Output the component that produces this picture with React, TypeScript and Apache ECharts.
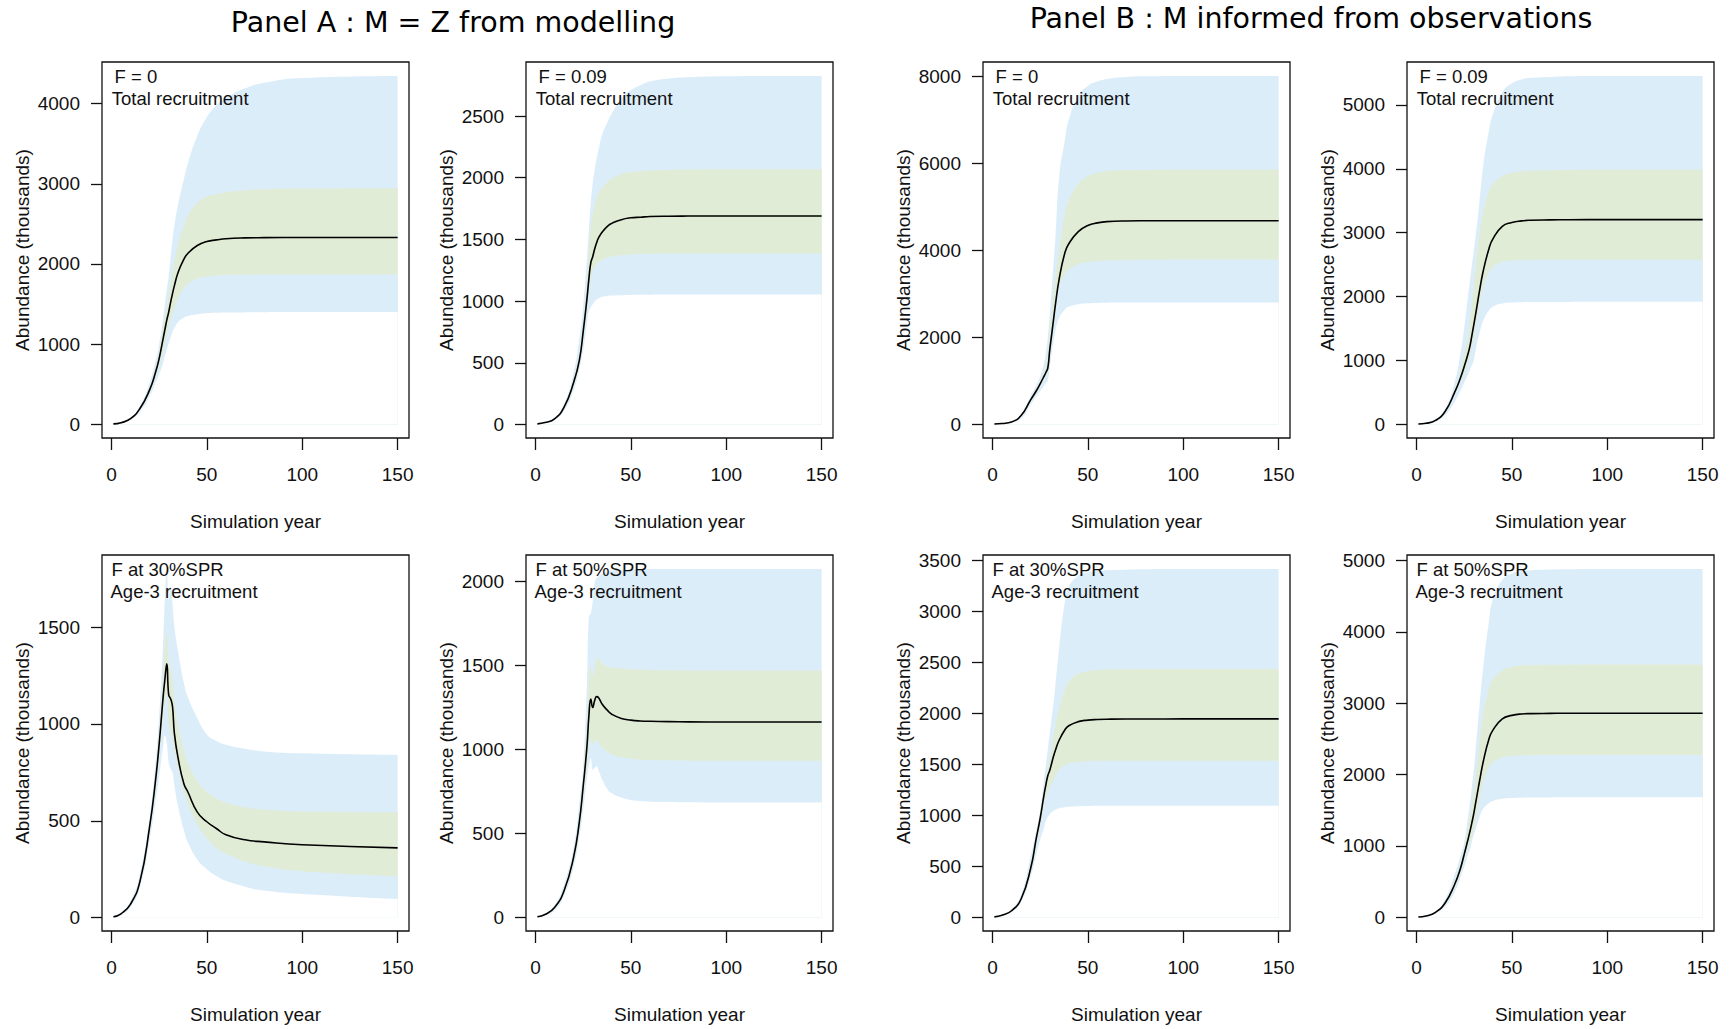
import React, { useEffect, useRef } from "react";
import * as echarts from "echarts";

// Simulation years at which the projected abundance summaries are stored
const YEARS = [1, 5, 10, 15, 20, 23, 25, 27, 28, 29, 30, 31, 32, 33, 35, 38, 40, 45, 50, 55, 60, 70, 80, 100, 150];
const X_TICKS = [0, 50, 100, 150];

// Panel A, F = 0, total recruitment
const A1_MED = [5, 20, 70, 200, 430, 640, 820, 1060, 1180, 1300, 1400, 1520, 1630, 1730, 1900, 2060, 2130, 2230, 2280, 2300, 2315, 2325, 2328, 2330, 2330];
const A1_HI95 = [6, 25, 80, 230, 520, 780, 1000, 1300, 1500, 1680, 1850, 2080, 2300, 2480, 2750, 3060, 3250, 3600, 3830, 3980, 4070, 4190, 4260, 4320, 4345];
const A1_HI50 = [5, 21, 73, 210, 460, 700, 900, 1200, 1320, 1450, 1600, 1750, 1900, 2030, 2250, 2480, 2600, 2760, 2840, 2870, 2895, 2920, 2932, 2940, 2945];
const A1_LO50 = [4, 18, 65, 185, 400, 590, 740, 920, 1020, 1120, 1220, 1300, 1380, 1450, 1580, 1700, 1750, 1815, 1845, 1855, 1862, 1866, 1868, 1870, 1870];
const A1_LO95 = [3, 14, 55, 160, 350, 510, 620, 760, 850, 930, 1010, 1080, 1150, 1200, 1280, 1330, 1350, 1372, 1385, 1390, 1393, 1396, 1398, 1400, 1400];
const A1_TICKS = [0, 1000, 2000, 3000, 4000];

// Panel A, F = 0.09, total recruitment
const A2_MED = [5, 15, 45, 140, 340, 520, 750, 1020, 1180, 1310, 1360, 1420, 1470, 1510, 1560, 1610, 1630, 1660, 1675, 1680, 1685, 1688, 1689, 1690, 1690];
const A2_HI95 = [6, 18, 55, 165, 420, 700, 950, 1350, 1580, 1800, 1950, 2060, 2150, 2220, 2350, 2460, 2520, 2640, 2710, 2750, 2780, 2805, 2815, 2822, 2825];
const A2_HI50 = [5, 16, 48, 150, 370, 580, 820, 1150, 1400, 1600, 1700, 1770, 1830, 1870, 1920, 1970, 1990, 2030, 2045, 2052, 2058, 2063, 2066, 2068, 2068];
const A2_LO50 = [4, 14, 42, 130, 310, 480, 680, 930, 1080, 1180, 1250, 1280, 1300, 1315, 1335, 1355, 1362, 1372, 1378, 1381, 1383, 1385, 1386, 1386, 1386];
const A2_LO95 = [3, 11, 35, 110, 280, 450, 600, 820, 920, 950, 975, 995, 1010, 1020, 1035, 1042, 1045, 1048, 1050, 1051, 1052, 1053, 1054, 1054, 1054];
const A2_TICKS = [0, 500, 1000, 1500, 2000, 2500];

// Panel B, F = 0, total recruitment
const B1_MED = [5, 15, 50, 200, 560, 770, 930, 1100, 1190, 1290, 1700, 2050, 2400, 2750, 3350, 3950, 4150, 4430, 4570, 4630, 4660, 4675, 4678, 4680, 4680];
const B1_HI95 = [6, 18, 60, 220, 650, 900, 1100, 1400, 1650, 2000, 2500, 3100, 3700, 4300, 5700, 6550, 7000, 7550, 7780, 7880, 7940, 7985, 8000, 8008, 8010];
const B1_HI50 = [5, 16, 55, 205, 600, 820, 990, 1200, 1330, 1600, 2100, 2550, 3000, 3400, 4000, 4850, 5150, 5520, 5700, 5780, 5820, 5840, 5845, 5850, 5850];
const B1_LO50 = [4, 14, 45, 180, 520, 720, 870, 1040, 1130, 1220, 1600, 2000, 2300, 2650, 3150, 3450, 3560, 3680, 3730, 3752, 3765, 3775, 3780, 3788, 3790];
const B1_LO95 = [3, 12, 40, 130, 450, 640, 760, 880, 950, 1000, 1300, 1600, 1900, 2150, 2450, 2640, 2700, 2760, 2780, 2790, 2795, 2798, 2800, 2800, 2800];
const B1_TICKS = [0, 2000, 4000, 6000, 8000];

// Panel B, F = 0.09, total recruitment
const B2_MED = [5, 15, 60, 200, 500, 720, 900, 1100, 1220, 1380, 1550, 1720, 1900, 2080, 2400, 2750, 2900, 3100, 3160, 3185, 3195, 3200, 3203, 3205, 3205];
const B2_HI95 = [6, 18, 70, 230, 650, 1100, 1500, 2000, 2250, 2480, 2700, 2950, 3200, 3480, 4050, 4600, 4850, 5200, 5340, 5400, 5425, 5440, 5450, 5453, 5455];
const B2_HI50 = [5, 16, 63, 210, 540, 800, 1100, 1350, 1580, 1850, 2150, 2450, 2750, 2980, 3320, 3650, 3760, 3880, 3940, 3960, 3970, 3978, 3982, 3985, 3985];
const B2_LO50 = [4, 13, 55, 185, 460, 660, 800, 980, 1100, 1220, 1350, 1520, 1700, 1850, 2150, 2380, 2470, 2540, 2565, 2572, 2575, 2577, 2578, 2578, 2578];
const B2_LO95 = [3, 11, 40, 140, 350, 520, 650, 780, 850, 920, 1000, 1150, 1300, 1420, 1620, 1780, 1840, 1890, 1905, 1910, 1913, 1915, 1916, 1917, 1917];
const B2_TICKS = [0, 1000, 2000, 3000, 4000, 5000];

// Panel A, F at 30%SPR, age-3 recruitment
const A3_MED = [5, 20, 70, 190, 470, 700, 895, 1130, 1230, 1310, 1150, 1130, 1090, 950, 820, 690, 650, 545, 495, 460, 428, 402, 391, 376, 360];
const A3_HI95 = [6, 25, 85, 230, 520, 790, 1040, 1400, 1650, 1800, 1640, 1710, 1620, 1500, 1370, 1210, 1140, 1030, 945, 912, 893, 872, 858, 848, 840];
const A3_HI50 = [5, 22, 75, 205, 500, 750, 960, 1250, 1400, 1470, 1320, 1280, 1220, 1120, 990, 860, 800, 705, 650, 615, 595, 570, 558, 548, 544];
const A3_LO50 = [4, 18, 65, 175, 440, 660, 830, 1030, 1120, 1150, 1000, 960, 920, 860, 770, 650, 590, 480, 410, 360, 330, 290, 265, 240, 214];
const A3_LO95 = [3, 14, 55, 160, 400, 590, 730, 880, 940, 900, 800, 770, 750, 680, 570, 450, 390, 300, 250, 215, 190, 160, 140, 122, 96];
const A3_TICKS = [0, 500, 1000, 1500];

// Panel A, F at 50%SPR, age-3 recruitment
const A4_MED = [5, 18, 60, 160, 360, 570, 780, 1020, 1200, 1300, 1250, 1290, 1315, 1310, 1270, 1230, 1210, 1185, 1175, 1170, 1168, 1166, 1165, 1164, 1164];
const A4_HI95 = [6, 21, 70, 200, 420, 680, 900, 1400, 1790, 1810, 1880, 1990, 2020, 2030, 2050, 2060, 2065, 2070, 2072, 2073, 2074, 2075, 2075, 2075, 2075];
const A4_HI50 = [5, 19, 64, 175, 390, 620, 850, 1150, 1400, 1490, 1440, 1480, 1530, 1545, 1510, 1495, 1488, 1482, 1478, 1476, 1474, 1472, 1471, 1470, 1470];
const A4_LO50 = [4, 16, 55, 145, 330, 520, 700, 900, 1020, 1070, 1030, 1050, 1055, 1040, 1010, 985, 970, 955, 945, 940, 938, 936, 934, 933, 933];
const A4_LO95 = [3, 14, 42, 130, 300, 480, 640, 830, 900, 950, 880, 890, 900, 880, 820, 760, 740, 715, 700, 694, 690, 688, 686, 685, 685];
const A4_TICKS = [0, 500, 1000, 1500, 2000];

// Panel B, F at 30%SPR, age-3 recruitment
const B3_MED = [5, 20, 65, 180, 480, 780, 970, 1200, 1300, 1390, 1440, 1510, 1580, 1640, 1740, 1840, 1880, 1920, 1935, 1941, 1944, 1946, 1946, 1947, 1947];
const B3_HI95 = [6, 24, 80, 220, 600, 850, 1050, 1350, 1500, 1650, 1800, 1950, 2100, 2280, 2650, 3100, 3240, 3350, 3385, 3398, 3405, 3411, 3415, 3417, 3418];
const B3_HI50 = [5, 21, 70, 195, 530, 840, 1030, 1260, 1380, 1470, 1550, 1660, 1770, 1880, 2050, 2230, 2310, 2390, 2415, 2425, 2432, 2435, 2436, 2437, 2437];
const B3_LO50 = [4, 18, 60, 165, 440, 720, 900, 1120, 1180, 1230, 1270, 1310, 1350, 1390, 1450, 1495, 1510, 1525, 1532, 1535, 1536, 1537, 1537, 1537, 1537];
const B3_LO95 = [3, 15, 50, 150, 400, 620, 760, 880, 950, 985, 1010, 1030, 1045, 1055, 1070, 1080, 1085, 1090, 1092, 1094, 1095, 1096, 1096, 1096, 1096];
const B3_TICKS = [0, 500, 1000, 1500, 2000, 2500, 3000, 3500];

// Panel B, F at 50%SPR, age-3 recruitment
const B4_MED = [5, 18, 70, 200, 460, 680, 880, 1090, 1200, 1320, 1450, 1600, 1750, 1900, 2180, 2500, 2620, 2780, 2830, 2850, 2855, 2858, 2860, 2860, 2860];
const B4_HI95 = [6, 22, 80, 250, 600, 850, 1050, 1400, 1600, 1820, 2050, 2350, 2650, 2950, 3500, 4150, 4450, 4730, 4820, 4850, 4865, 4875, 4880, 4883, 4883];
const B4_HI50 = [5, 20, 74, 215, 500, 750, 950, 1250, 1400, 1570, 1750, 1980, 2220, 2450, 2850, 3200, 3330, 3460, 3510, 3528, 3535, 3540, 3541, 3542, 3542];
const B4_LO50 = [4, 16, 62, 180, 410, 620, 800, 980, 1050, 1150, 1250, 1380, 1520, 1650, 1900, 2100, 2170, 2240, 2260, 2268, 2272, 2274, 2275, 2276, 2276];
const B4_LO95 = [3, 13, 50, 150, 350, 550, 700, 880, 950, 1050, 1150, 1230, 1320, 1400, 1520, 1600, 1630, 1660, 1672, 1676, 1678, 1680, 1681, 1682, 1682];
const B4_TICKS = [0, 1000, 2000, 3000, 4000, 5000];

const PANELS = [
  { med: A1_MED, hi95: A1_HI95, hi50: A1_HI50, lo50: A1_LO50, lo95: A1_LO95, ticks: A1_TICKS, line1: "F = 0", line2: "Total recruitment" },
  { med: A2_MED, hi95: A2_HI95, hi50: A2_HI50, lo50: A2_LO50, lo95: A2_LO95, ticks: A2_TICKS, line1: "F = 0.09", line2: "Total recruitment" },
  { med: B1_MED, hi95: B1_HI95, hi50: B1_HI50, lo50: B1_LO50, lo95: B1_LO95, ticks: B1_TICKS, line1: "F = 0", line2: "Total recruitment" },
  { med: B2_MED, hi95: B2_HI95, hi50: B2_HI50, lo50: B2_LO50, lo95: B2_LO95, ticks: B2_TICKS, line1: "F = 0.09", line2: "Total recruitment" },
  { med: A3_MED, hi95: A3_HI95, hi50: A3_HI50, lo50: A3_LO50, lo95: A3_LO95, ticks: A3_TICKS, line1: "F at 30%SPR", line2: "Age-3 recruitment" },
  { med: A4_MED, hi95: A4_HI95, hi50: A4_HI50, lo50: A4_LO50, lo95: A4_LO95, ticks: A4_TICKS, line1: "F at 50%SPR", line2: "Age-3 recruitment" },
  { med: B3_MED, hi95: B3_HI95, hi50: B3_HI50, lo50: B3_LO50, lo95: B3_LO95, ticks: B3_TICKS, line1: "F at 30%SPR", line2: "Age-3 recruitment" },
  { med: B4_MED, hi95: B4_HI95, hi50: B4_HI50, lo50: B4_LO50, lo95: B4_LO95, ticks: B4_TICKS, line1: "F at 50%SPR", line2: "Age-3 recruitment" },
];

const TITLE_A = "Panel A : M = Z from modelling";
const TITLE_B = "Panel B : M informed from observations";
const X_NAME = "Simulation year";
const Y_NAME = "Abundance (thousands)";

// Layout of the 2 x 4 plot regions (pixels)
const COL_LEFT = [102, 526, 983, 1407];
const ROW_TOP = [62, 555];
const PLOT_W = 307;
const PLOT_H = 376;

const BLUE = "#dcedfa";
const GREEN = "#e1ecd6";
const PAPER = "#ffffff";
const INK = "#111111";
const R_FONT = "'Liberation Sans', Arial, sans-serif";
const TITLE_FONT = "'DejaVu Sans', sans-serif";
const SMOOTH = 0.5;

// R-style 4% padding around the data range
function padRange(lo: number, hi: number): [number, number] {
  const p = 0.04 * (hi - lo);
  return [lo - p, hi + p];
}

function buildOption() {
  const grids: any[] = [];
  const xAxes: any[] = [];
  const yAxes: any[] = [];
  const series: any[] = [];
  const graphics: any[] = [];
  const [xMin, xMax] = padRange(YEARS[0], YEARS[YEARS.length - 1]);

  PANELS.forEach((p, i) => {
    const col = i % 4;
    const row = Math.floor(i / 4);
    const left = COL_LEFT[col];
    const top = ROW_TOP[row];
    grids.push({
      left, top, width: PLOT_W, height: PLOT_H,
      show: true, borderColor: INK, borderWidth: 1.3, backgroundColor: "transparent",
      containLabel: false,
    });
    xAxes.push({
      type: "value", gridIndex: i, min: xMin, max: xMax,
      axisLine: { show: false, onZero: false },
      axisTick: { show: true, inside: false, length: 12, customValues: X_TICKS, lineStyle: { color: INK, width: 1.3 } },
      axisLabel: { show: true, customValues: X_TICKS, margin: 27, fontSize: 19, color: INK, fontFamily: R_FONT, formatter: (v: number) => String(v) },
      splitLine: { show: false },
      name: X_NAME, nameLocation: "middle", nameGap: 74,
      nameTextStyle: { fontSize: 19, color: INK, fontFamily: R_FONT },
    });
    const [yMin, yMax] = padRange(Math.min(...p.lo95), Math.max(...p.hi95));
    yAxes.push({
      type: "value", gridIndex: i, min: yMin, max: yMax,
      axisLine: { show: false, onZero: false },
      axisTick: { show: true, inside: false, length: 11, customValues: p.ticks, lineStyle: { color: INK, width: 1.3 } },
      axisLabel: { show: true, customValues: p.ticks, margin: 22, fontSize: 19, color: INK, fontFamily: R_FONT, formatter: (v: number) => String(v) },
      splitLine: { show: false },
      name: Y_NAME, nameLocation: "middle", nameGap: 70,
      nameTextStyle: { fontSize: 19, color: INK, fontFamily: R_FONT },
    });

    const common = {
      type: "line", xAxisIndex: i, yAxisIndex: i, symbol: "none", silent: true,
      smooth: SMOOTH,
    };
    // Bands are painted as areas down to zero, from the outermost edge inwards:
    // upper 95% (blue), upper 50% (green), lower 50% (blue), lower 95% (paper).
    const layer = (vals: number[], color: string) => ({
      ...common,
      lineStyle: { width: 0, opacity: 0 },
      areaStyle: { color, opacity: 1, origin: "auto" },
      data: YEARS.map((x, k) => [x, vals[k]]),
    });
    series.push(layer(p.hi95, BLUE));
    series.push(layer(p.hi50, GREEN));
    series.push(layer(p.lo50, BLUE));
    series.push(layer(p.lo95, PAPER));
    // median trajectory
    series.push({
      ...common,
      lineStyle: { color: "#000", width: 1.6 },
      data: YEARS.map((x, k) => [x, p.med[k]]),
    });

    const dx1 = p.line1.startsWith("F =") ? 12.5 : 9.5;
    const dx2 = p.line2.startsWith("Total") ? 9.8 : 8.5;
    graphics.push({
      type: "text", x: left + dx1, y: top + 14, z: 50, silent: true,
      style: { text: p.line1, fontSize: 18.5, fontFamily: R_FONT, fill: INK, align: "left", verticalAlign: "middle" },
    });
    graphics.push({
      type: "text", x: left + dx2, y: top + 36.3, z: 50, silent: true,
      style: { text: p.line2, fontSize: 18.5, fontFamily: R_FONT, fill: INK, align: "left", verticalAlign: "middle" },
    });
  });

  graphics.push({
    type: "text", x: 453, y: 22.5, z: 50, silent: true,
    style: { text: TITLE_A, fontSize: 28.5, fontFamily: TITLE_FONT, fill: "#000", align: "center", verticalAlign: "middle" },
  });
  graphics.push({
    type: "text", x: 1311, y: 18.5, z: 50, silent: true,
    style: { text: TITLE_B, fontSize: 28.5, fontFamily: TITLE_FONT, fill: "#000", align: "center", verticalAlign: "middle" },
  });

  return {
    animation: false,
    backgroundColor: PAPER,
    grid: grids,
    xAxis: xAxes,
    yAxis: yAxes,
    series,
    graphic: { elements: graphics, z: 50 } as any,
  };
}

export default function App() {
  const ref = useRef<HTMLDivElement>(null);
  useEffect(() => {
    if (!ref.current) return;
    const chart = echarts.init(ref.current, undefined, { renderer: "svg" });
    chart.setOption(buildOption() as any);
    return () => chart.dispose();
  }, []);
  return (
    <div
      ref={ref}
      style={{ position: "fixed", left: 0, top: 0, width: 1732, height: 1029, background: "#fff" }}
    />
  );
}
